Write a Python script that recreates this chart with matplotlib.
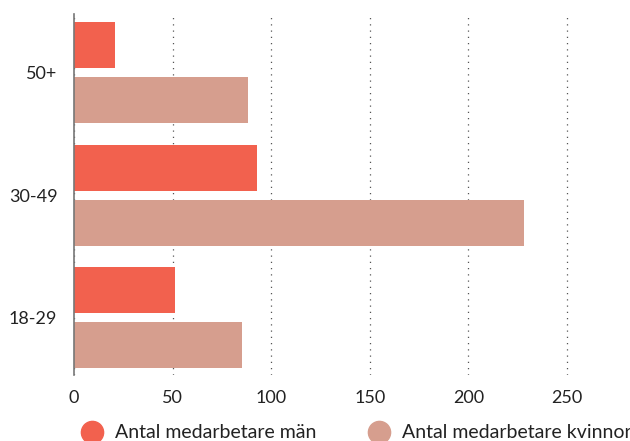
import matplotlib.pyplot as plt
from matplotlib.lines import Line2D
import numpy as np

plt.rcParams['font.family'] = ['Lato', 'DejaVu Sans']

# data
groups = ["18-29", "30-49", "50+"]
man = [51, 93, 21]
kvinnor = [85, 228, 88]
labels = ["Antal medarbetare män", "Antal medarbetare kvinnor"]
colors = ["#F2614E", "#D69E8E"]

fig = plt.figure(figsize=(6.3, 4.41), dpi=100)
ax = fig.add_axes([74 / 630, 1 - 375 / 441, 1 - 74 / 630, (375 - 14) / 441])

y = np.arange(len(groups))
h = 0.375
off = 0.225
ax.barh(y + off, man, height=h, color=colors[0], zorder=3)
ax.barh(y - off, kvinnor, height=h, color=colors[1], zorder=3)

ax.set_xlim(0, 282)
ax.set_ylim(-0.47, 2.48)
ax.set_xticks([0, 50, 100, 150, 200, 250])
ax.set_yticks(y)
ax.set_yticklabels(groups)
ax.tick_params(axis='both', length=0, labelsize=13, colors="#222222")
ax.tick_params(axis='x', pad=11)
ax.tick_params(axis='y', pad=12)
ax.xaxis.grid(True, linestyle=(0, (1, 4)), color="#555555", linewidth=0.9, zorder=0)

for s in ["top", "right", "bottom"]:
    ax.spines[s].set_visible(False)
ax.spines["left"].set_color("#777777")
ax.spines["left"].set_linewidth(1.2)
ax.spines["left"].set_zorder(4)

handles = [Line2D([], [], marker='o', linestyle='', markersize=16, color=c) for c in colors]
fig.legend(handles, labels, loc='center left', bbox_to_anchor=((92 - 9.7) / 630, 1 - 433 / 441),
           ncol=2, frameon=False, fontsize=14, handlelength=1.0, handletextpad=0.69,
           columnspacing=2.7, borderpad=0, borderaxespad=0, labelcolor="#222222")

fig.savefig("out.png", dpi=100)
